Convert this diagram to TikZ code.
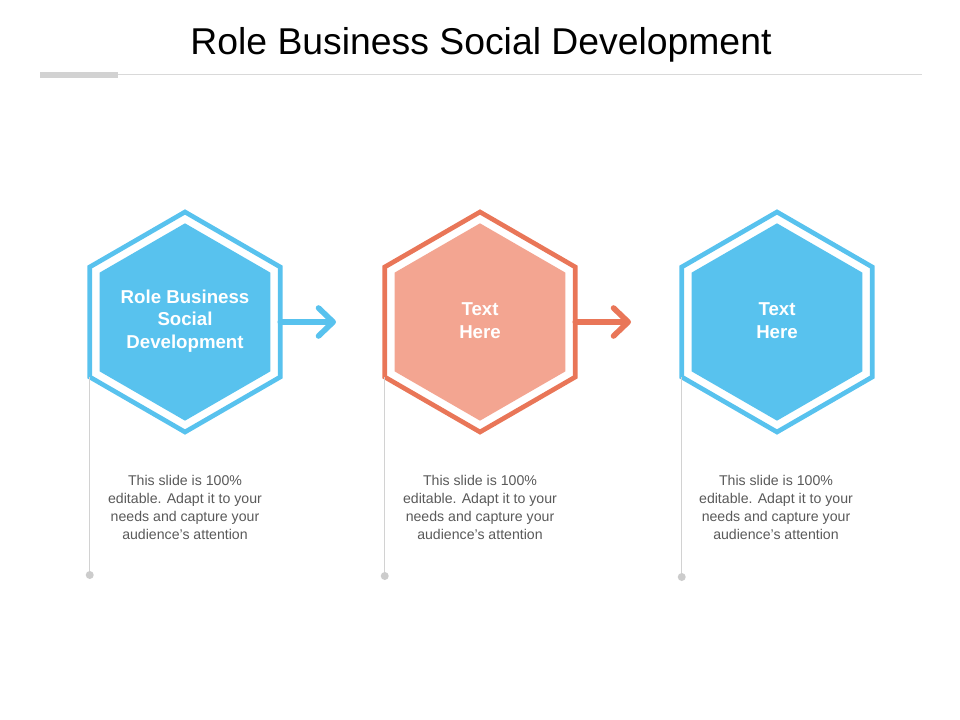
\documentclass[tikz,border=0pt]{standalone}
\usepackage{fontspec}
\setmainfont{Liberation Sans}
\usepackage{tikz}
\usetikzlibrary{shapes.geometric,positioning}
\usetikzlibrary{arrows.meta}
\definecolor{skyblue}{RGB}{88,194,238}
\definecolor{coralline}{RGB}{233,118,88}
\definecolor{coralfill}{RGB}{243,165,145}
\definecolor{bodygray}{RGB}{89,89,89}
\tikzset{
    hexout/.style={
        regular polygon,
        regular polygon sides=6,
        shape border rotate=30,
        minimum size=165pt,
        inner sep=0pt,
        outer sep=0pt,
        line width=3.5pt,
        fill=white
    },
    hexin/.style={
        regular polygon,
        regular polygon sides=6,
        shape border rotate=30,
        minimum size=148pt,
        inner sep=0pt,
        outer sep=0pt
    },
    hextext/.style={
        text=white,
        align=center,
        font=\fontsize{14pt}{17pt}\selectfont\bfseries
    },
    % chevron arrow between the hexagons
    steparrow/.style={
        line width=4.2pt,
        line cap=round,
        -{Straight Barb[length=11pt,width=21pt,round]}
    },
    bodytext/.style={
        text=bodygray,
        align=center,
        font=\fontsize{10.6pt}{13.5pt}\selectfont
    },
    guideline/.style={
        gray!35,
        line width=0.7pt
    }
}

\begin{document}
\begin{tikzpicture}[x=0.75pt,y=-0.75pt]
	\useasboundingbox (0,0) rectangle (960,720);
	
	% title
	\node (title) at (481,45) {\fontsize{28pt}{32pt}\selectfont Role Business Social Development};
	\fill[gray!35] (40,72) rectangle (118,78);
	\draw[gray!30,line width=0.75pt] (118,75) -- (922,75);
	
	% hexagons
	\node[hexout,draw=skyblue] (hexout1) at (185,322) {};
	\node[hexin,fill=skyblue] (hexin1) at (185,322) {};
	\node[hextext] (hextext1) at (185,321) {Role Business\\Social\\Development};
	\node[hexout,draw=coralline] (hexout2) at (480,322) {};
	\node[hexin,fill=coralfill] (hexin2) at (480,322) {};
	\node[hextext] (hextext2) at (480,321) {Text\\Here};
	\node[hexout,draw=skyblue] (hexout3) at (777,322) {};
	\node[hexin,fill=skyblue] (hexin3) at (777,322) {};
	\node[hextext] (hextext3) at (777,321) {Text\\Here};
	
	% arrows
	\coordinate (tip1) at (336,322);
	\coordinate (tip2) at (631,322);
	\draw[steparrow,skyblue] (hexout1.east) -- (tip1);
	\draw[steparrow,coralline] (hexout2.east) -- (tip2);
	
	% guide lines with dots
	\coordinate (dot1) at (87,575);
	\coordinate (dot2) at (381,576);
	\coordinate (dot3) at (678,577);
	\draw[guideline] (hexout1.210) -- (hexout1.210 |- dot1);
	\draw[guideline] (hexout2.210) -- (hexout2.210 |- dot2);
	\draw[guideline] (hexout3.210) -- (hexout3.210 |- dot3);
	\fill[gray!40] 
	(hexout1.210 |- dot1) circle (3pt)
	(hexout2.210 |- dot2) circle (3pt)
	(hexout3.210 |- dot3) circle (3pt);
	
	% texts
	\node[bodytext] (body1) at (185,507) {This slide is 100\%\\editable. Adapt it to your\\needs and capture your\\audience's attention};
	\node[bodytext] (body2) at (480,507) {This slide is 100\%\\editable. Adapt it to your\\needs and capture your\\audience's attention};
	\node[bodytext] (body3) at (776,507) {This slide is 100\%\\editable. Adapt it to your\\needs and capture your\\audience's attention};
\end{tikzpicture}
\end{document}
